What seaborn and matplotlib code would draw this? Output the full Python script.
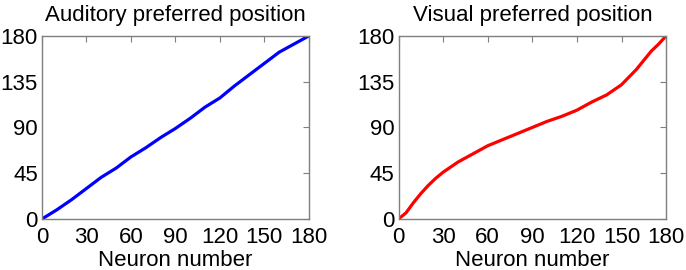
import numpy as np
import pandas as pd
import matplotlib
matplotlib.use('Agg')
import matplotlib.pyplot as plt
import seaborn as sns

# Neuron index and preferred positions
neuron = [0, 10, 20, 30, 40, 50, 60, 70, 80, 90, 100, 110, 120, 130, 140, 150, 160, 170, 180]
auditory_pos = [0, 9, 19, 30, 41, 50, 61, 70, 80, 89, 99, 110, 119, 131, 142, 153, 164, 172, 180]

neuron_vis = [0, 5, 10, 15, 20, 25, 30, 40, 50, 60, 70, 80, 90, 100, 110, 120, 130, 140, 150, 160, 170, 175, 180]
visual_pos = [0, 6, 16, 25, 33, 40, 46, 56, 64, 72, 78, 84, 90, 96, 101, 107, 115, 122, 132, 147, 165, 172, 180]

ticks = [0, 30, 60, 90, 120, 150, 180]
yticks = [0, 45, 90, 135, 180]

sns.set_style('white')
plt.rcParams['font.family'] = ['Liberation Sans', 'DejaVu Sans']
plt.rcParams['font.size'] = 16
plt.rcParams['text.color'] = 'black'
plt.rcParams['xtick.labelcolor'] = 'black'
plt.rcParams['ytick.labelcolor'] = 'black'
plt.rcParams['axes.labelcolor'] = 'black'

df_aud = pd.DataFrame({'neuron': neuron, 'pos': auditory_pos})
df_vis = pd.DataFrame({'neuron': neuron_vis, 'pos': visual_pos})

fig = plt.figure(figsize=(6.86, 2.70), dpi=100)
ax1 = fig.add_axes([0.0612, 0.189, 0.389, 0.678])
ax2 = fig.add_axes([0.581, 0.189, 0.390, 0.678])

sns.lineplot(data=df_aud, x='neuron', y='pos', ax=ax1, color='#0000ff', linewidth=2.3)
sns.lineplot(data=df_vis, x='neuron', y='pos', ax=ax2, color='#ff0000', linewidth=2.3)

for ax, title in [(ax1, 'Auditory preferred position'), (ax2, 'Visual preferred position')]:
    ax.set_xlim(0, 180)
    ax.set_ylim(0, 180)
    ax.set_xticks(ticks)
    ax.set_yticks(yticks)
    ax.set_xlabel('Neuron number', fontsize=16, labelpad=2)
    ax.set_ylabel('')
    ax.set_title(title, fontsize=16, pad=11)
    ax.tick_params(direction='in', length=4, width=0.8, color='#7f7f7f',
                   top=True, right=True, labelsize=16)
    ax.tick_params(axis='x', pad=5.5)
    ax.tick_params(axis='y', pad=3)
    for s in ax.spines.values():
        s.set_visible(True)
        s.set_color('#7f7f7f')
        s.set_linewidth(1.0)

plt.savefig('out.png', dpi=100)
